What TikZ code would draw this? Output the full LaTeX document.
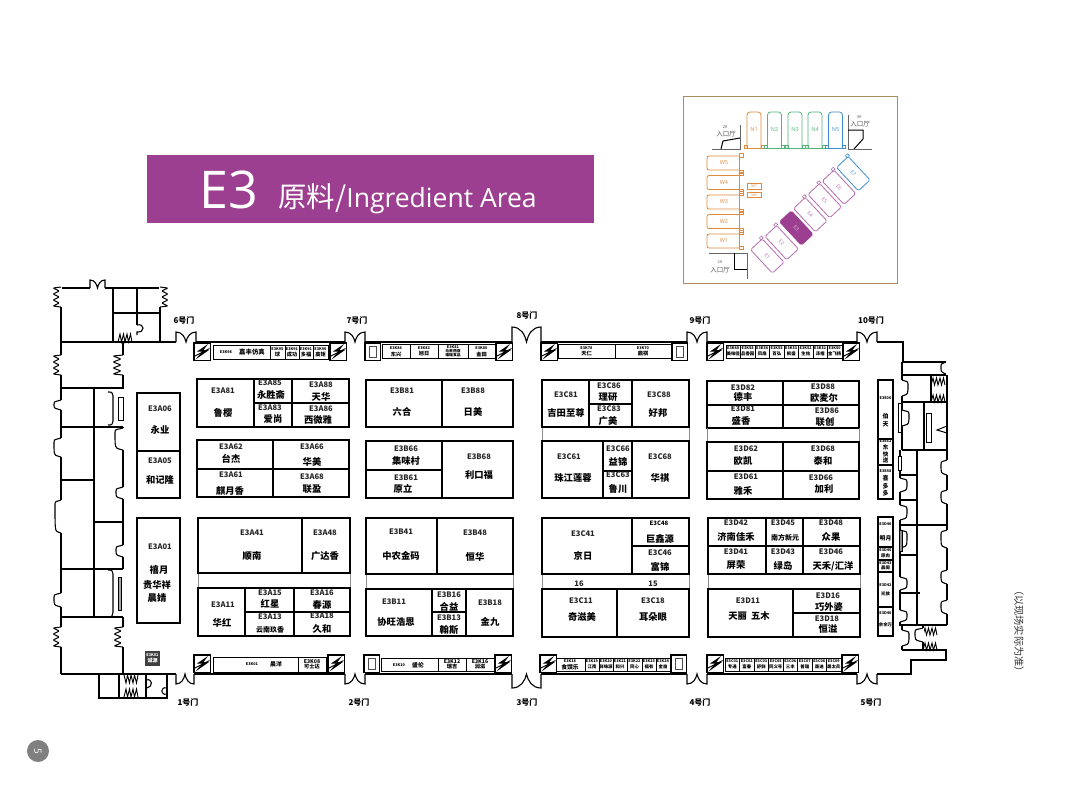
\documentclass[tikz,border=0pt]{standalone}
\usepackage{fontspec}
\newfontfamily\cjk{Noto Sans CJK SC}
\newfontfamily\tfont{Open Sans}
\definecolor{pur}{HTML}{9C3F90}
\definecolor{lpur}{HTML}{B56DB0}
\definecolor{ora}{HTML}{DE8A3C}
\definecolor{gre}{HTML}{52B478}
\definecolor{blu}{HTML}{3F8FD0}
\definecolor{frm}{HTML}{A98B63}
\tikzset{
 wall/.style={draw=black,line width=1.1pt,line join=miter},
 cell/.style={draw=black,line width=1.3pt,fill=white},
 thin cell/.style={draw=black,line width=.9pt,fill=white},
 lt/.style={draw=black!45,line width=.8pt},
 lb/.style={font=\cjk\bfseries\fontsize{7.6}{7.6}\selectfont,inner sep=0pt,text=black!85},
 cn/.style={font=\cjk\bfseries\fontsize{9.3}{9.3}\selectfont,inner sep=0pt},
 cns/.style={font=\cjk\bfseries\fontsize{7}{7}\selectfont,inner sep=0pt},
 tiny1/.style={font=\cjk\bfseries\fontsize{3.8}{4}\selectfont,inner sep=0pt,align=center},
 tiny2/.style={font=\cjk\bfseries\fontsize{5.2}{5.4}\selectfont,inner sep=0pt,align=center},
 tiny3/.style={font=\cjk\bfseries\fontsize{4.4}{4.4}\selectfont,inner sep=0pt},
 door/.style={font=\cjk\bfseries\fontsize{8}{8}\selectfont,inner sep=0pt},
 ins/.style={font=\cjk\fontsize{6.5}{6.5}\selectfont,inner sep=0pt,text=black!65},
 hall/.style={line width=.8pt,rounded corners=1.6pt,fill=white},
 hl/.style={font=\tfont\fontsize{5.5}{5.5}\selectfont,inner sep=0pt},
}
\newcommand{\BX}[4]{\path[cell] (#1,#2) rectangle (#3,#4);}
\newcommand{\TB}[4]{\path[thin cell] (#1,#2) rectangle (#3,#4);}
\newcommand{\VL}[3]{\draw[cell] (#1,#2) -- (#1,#3);}
\newcommand{\HL}[3]{\draw[cell] (#2,#1) -- (#3,#1);}
\newcommand{\LB}[3]{\node[lb] at (#1,#2) {#3};}
\newcommand{\CN}[3]{\node[cn] at (#1,#2) {#3};}
\newcommand{\LIGHT}[2]{%
 \path[draw=black,line width=1.5pt,fill=white] (#1,#2) rectangle ++(16.5,17.5);
 \fill[black] (#1+14,#2+1) -- (#1+3,#2+8.5) -- (#1+8,#2+8.5) -- (#1+1.5,#2+16.5) -- (#1+15,#2+7) -- (#1+9.5,#2+7) -- cycle;
 \draw[black,line width=.9pt] (#1+1,#2+13) -- (#1+15.5,#2+5.5);
}
\newcommand{\DOORBOX}[2]{%
 \path[draw=black,line width=1.5pt,fill=white] (#1,#2) rectangle ++(15.5,17.5);
 \path[draw=black!70,line width=.7pt] (#1+4.5,#2+3.5) rectangle ++(6.5,11);
}
\newcommand{\GATE}[4]{%
 \draw[white,line width=2.2pt] (#1,#3) -- (#2,#3);
 \draw[wall] (#1,#3) -- (#1,#4) .. controls ({#1+.3*(#2-#1)},#4) and ({#1+.45*(#2-#1)},{#4+.5*(#3-#4)}) .. ({.5*#1+.5*#2},#3)
  .. controls ({#1+.55*(#2-#1)},{#4+.5*(#3-#4)}) and ({#1+.7*(#2-#1)},#4) .. (#2,#4) -- (#2,#3);
}
\newcommand{\SPV}[3]{%
 \draw[white,line width=2.2pt] (#1,#2) -- (#1,#2+20);
 \draw[black,line width=1pt,rounded corners=1pt] (#1,#2) -- (#1+#3,#2+1) -- (#1+.2*#3,#2+4) -- (#1+#3,#2+7) -- (#1+.2*#3,#2+10) -- (#1+#3,#2+13) -- (#1+.2*#3,#2+16) -- (#1+#3,#2+19) -- (#1,#2+20);
}
\newcommand{\SPH}[3]{%
 \draw[black,line width=.9pt] (#1,#2) -- (#1+2,#2+#3) -- (#1+3.5,#2) -- (#1+5.5,#2+#3) -- (#1+7,#2) -- (#1+9,#2+#3) -- (#1+10.5,#2) -- (#1+12.5,#2+#3) -- (#1+14,#2);
}
\newcommand{\BUMP}[4]{%
 \draw[white,line width=2.2pt] (#1,#2) -- (#1,#2+#4);
 \draw[black,line width=1.1pt] (#1,#2) -- (#1+.4*#3,#2+.8) .. controls (#1+#3,#2+1.5) and (#1+#3,#2+2.5) .. (#1+#3,#2+4) .. controls (#1+#3,#2+#4-2) .. (#1+.4*#3,#2+#4-.8) -- (#1,#2+#4);
}
\begin{document}
\begin{tikzpicture}[x=1pt,y=-1pt]
\useasboundingbox (0,0) rectangle (1080,796);
\fill[white] (0,0) rectangle (1080,796);

%% title
\fill[pur] (147,155) rectangle (594,223);
\node[font=\tfont\fontsize{52}{52}\selectfont,text=white,inner sep=0pt,anchor=base west] at (199,208) {E3};
\node[font=\cjk\fontsize{28.5}{28.5}\selectfont,text=white,inner sep=0pt,anchor=base west] at (278,207) {原料/\tfont\fontsize{26.5}{26.5}\selectfont Ingredient Area};

%% inset
\draw[frm,line width=1pt] (683,96) rectangle (897,283);
\foreach \x/\c/\t in {747/ora/N1,767.5/gre/N2,788/gre/N3,808/gre/N4,828.5/blu/N5}{
 \draw[\c,line width=.8pt,rounded corners=3pt] (\x,148) -- (\x,112) -- (\x+14,112) -- (\x+14,148);
 \node[hl,text=\c] at (\x+7,130) {\t};
 \draw[\c,line width=.7pt] (\x-3,148) -- (\x+17,148);
 \draw[\c,line width=.7pt] (\x-3,145) rectangle (\x,148) (\x+14,145) rectangle (\x+17,148);
}
\foreach \y/\t in {156/W5,175.5/W4,195/W3,214.5/W2,234/W1}{
 \path[draw=ora,line width=.8pt,rounded corners=2pt] (739,\y) -- (707,\y) -- (707,\y+14) -- (739,\y+14);
 \node[hl,text=ora] at (724,\y+7) {\t};
}
\draw[ora,line width=.8pt] (739,154) -- (739,250);
\foreach \y in {153.5,170,172,189.5,191.5,209,211,228.5,230.5,246}{\draw[ora,line width=.7pt] (739,\y) rectangle (743,\y+3.5);}
\draw[ora,line width=.7pt] (747,183.5) rectangle (761.5,189.5) (747,192) rectangle (761.5,197.5);
\node[font=\tfont\fontsize{3.6}{3.6}\selectfont,text=ora,inner sep=0pt] at (754,186.5) {W7};
\node[font=\tfont\fontsize{3.6}{3.6}\selectfont,text=ora,inner sep=0pt] at (754,195) {W6};
\foreach \cx/\cy/\c/\t in {767.3/256/lpur/E1,781.7/242.7/lpur/E2,810.3/214.7/lpur/E4,824.7/200.7/lpur/E5,839/187.3/lpur/E6,853.3/173.7/blu/E7}{
 \begin{scope}[shift={(\cx,\cy)},rotate=-47]
 \path[hall,draw=\c] (-16,-8) rectangle (16,8);
 \draw[\c,line width=.6pt] (-18.5,-9.5) rectangle (-16,-6.5);
 \node[font=\tfont\fontsize{5}{5}\selectfont,text=\c,inner sep=0pt,rotate=-47] at (0,0) {\t};
 \end{scope}
}
\begin{scope}[shift={(796.3,228)},rotate=-47]
 \path[hall,draw=pur,fill=pur] (-16,-8) rectangle (16,8);
 \node[font=\tfont\fontsize{5}{5}\selectfont,text=white!70!pur,inner sep=0pt,rotate=-47] at (0,0) {E3};
\end{scope}
\draw[black!60,line width=1pt] (740,125) -- (740,149) -- (712,149);
\draw[black,line width=1pt] (721,149) -- (723,141) -- (740,138);
\draw[black!60,line width=1pt] (848,115) -- (848,149) -- (872,149);
\draw[black,line width=1pt] (848,130) -- (863,130) -- (863,139) -- (854,149);
\draw[black!60,line width=1pt] (709,253) -- (747,253) -- (747,279);
\draw[black,line width=1pt] (734,253) -- (734,269) -- (747,269);
\node[font=\cjk\fontsize{4}{4}\selectfont,inner sep=0pt,text=black!65] at (725,127) {2\#};
\node[ins] at (726,134) {入口厅};
\node[font=\cjk\fontsize{4}{4}\selectfont,inner sep=0pt,text=black!65] at (859,117) {3\#};
\node[ins] at (860,124) {入口厅};
\node[font=\cjk\fontsize{4}{4}\selectfont,inner sep=0pt,text=black!65] at (720,262) {1\#};
\node[ins] at (720,270) {入口厅};

%% outer wall
\draw[wall] (61,674) -- (61,288) -- (160,288) -- (160,342) -- (176,342);
\draw[wall] (196,342) -- (903,342) -- (903,362) -- (946,362);
\draw[wall] (61,674) -- (911,674) -- (911,660) -- (946,660) -- (946,650) -- (902,650);
\draw[wall] (61,342) -- (123,342) -- (123,388) -- (61,388);
\draw[wall] (123,342) -- (160,342);
\draw[wall] (61,427) -- (123,427);
\draw[wall] (61,480) -- (94,480);
\draw[wall] (94,522) -- (123,522);
\draw[wall] (61,569) -- (123,569);
\draw[wall] (61,617) -- (123,617);
\draw[wall] (94,388) -- (94,617);
\draw[wall] (123,427) -- (123,569) (123,617) -- (123,674);
\draw[wall] (113,288) -- (113,342) (137,288) -- (137,325) (113,313) -- (160,313);
\SPH{118}{342}{-8}
\draw[wall] (137,325) .. controls (145,323) and (145,333) .. (137,332) -- (137,335);
\GATE{90}{105}{288}{280}
\SPV{61}{287}{-8}
\SPV{160}{287}{8}
\SPV{61}{355}{-8}
\SPV{123}{355}{-10}
\SPV{61}{627}{-8}
\SPV{123}{627}{-9}
\BUMP{61}{400}{-7}{10}
\BUMP{61}{438}{-7}{19}
\BUMP{61}{500}{-6}{33}
\BUMP{61}{593}{-7}{14}
\BUMP{123}{428}{-8}{22}
\BUMP{123}{487}{-7}{12}
\BUMP{123}{545}{-7}{12}
\draw[wall] (108,392) .. controls (112,392) .. (113,396) -- (113,421) .. controls (112,425) .. (108,425);
\draw[wall] (108,570) .. controls (112,570) .. (113,574) -- (113,612) .. controls (112,617) .. (108,617);
\path[draw=black,line width=.9pt,fill=white] (118,397) rectangle (123,420);
\path[draw=black,line width=.9pt,fill=black!35] (118,577) rectangle (121,610);
\draw[wall] (99,674) -- (99,698) -- (167,698) -- (167,674);
\draw[wall] (119,674) -- (119,698) (146,674) -- (146,698);
\SPH{124}{675}{8}
\SPH{124}{697}{-8}
\draw[wall] (146,680) .. controls (153,678) and (153,687) .. (147,688);
\draw[wall] (167,688) .. controls (160,686) and (160,696) .. (167,694);
\GATE{176}{196}{342}{332}
\GATE{345}{365}{342}{332}
\GATE{512}{541}{342}{327}
\GATE{687}{707}{342}{332}
\GATE{857}{877}{342}{332}
\GATE{176}{194}{674}{684}
\GATE{345}{365}{674}{684}
\GATE{512}{541}{674}{688}
\GATE{687}{707}{674}{684}
\GATE{857}{877}{674}{684}
\draw[wall] (902,362) -- (902,402) (902,375) -- (946,375) (902,402) -- (946,402);
\draw[wall] (924,402) -- (924,450) (902,450) -- (947,450);
\draw[wall] (917,450) -- (917,625);
\draw[line width=1.5pt] (899,525) -- (947,525);
\draw[wall] (899,625) -- (947,625);
\draw[wall] (902,402) -- (902,450) (900,450) -- (900,625) (902,625) -- (902,650);
\draw[wall] (947,375) -- (947,625);
\draw[wall] (900,593) -- (920,593);
\draw[wall] (900,555) -- (917,555) (900,475) -- (917,475) (900,500) -- (917,500);
\draw[wall] (931,375) -- (931,402);
\SPH{931}{385}{-7}
\SPH{931}{402}{-7}
\SPH{923}{635}{-7}
\SPH{923}{650}{-7}
\draw[wall] (923,625) -- (923,650);
\BUMP{902}{410}{7}{16}
\BUMP{902}{380}{6}{16}
\BUMP{900}{478}{7}{14}
\BUMP{900}{505}{7}{15}
\BUMP{900}{530}{7}{18}
\BUMP{900}{577}{7}{13}
\BUMP{900}{610}{7}{12}
\BUMP{902}{630}{7}{16}
\BUMP{923}{628}{-8}{14}
\BUMP{947}{460}{-6}{15}
\BUMP{947}{490}{-6}{14}
\BUMP{947}{530}{-6}{18}
\BUMP{947}{570}{-6}{14}
\BUMP{947}{600}{-6}{14}
\BUMP{946}{362}{-5}{12}
\draw[black,line width=1pt] (947,426) -- (937,430) -- (947,433);
\path[draw=black,line width=.9pt,fill=white] (898,403) rectangle (901,432);
\path[draw=black,line width=.9pt,fill=white] (926,413) rectangle (931,442);
\path[draw=black,line width=.9pt,fill=white] (898,456) rectangle (901,470);
\path[draw=black,line width=.9pt,fill=black!45] (899,530) rectangle (902,551);

%% A blocks
\BX{137}{393}{180}{451}\BX{137}{451}{180}{498}\BX{137}{518}{180}{623}
\LB{160}{409}{E3A06}\CN{160}{430}{永业}\LB{160}{461}{E3A05}\CN{160}{480}{和记隆}
\LB{160}{547}{E3A01}\CN{159}{570}{禧月}\CN{157}{585}{贵华祥}\CN{157}{598}{晨婧}
\BX{197}{379}{349}{427}\VL{254}{379}{427}\VL{292}{379}{427}\HL{403}{254}{349}
\LB{223}{391}{E3A81}\CN{223}{413}{鲁樱}\LB{270}{383}{E3A85}\CN{271}{395}{永胜斋}\LB{321}{385}{E3A88}\CN{321}{397}{天华}
\LB{270}{408}{E3A83}\CN{273}{419}{爱尚}\LB{321}{409}{E3A86}\CN{318}{420}{西微雅}
\BX{197}{440}{349}{497}\VL{273}{440}{497}\HL{469}{197}{349}
\LB{231}{447}{E3A62}\CN{231}{459}{台杰}\LB{312}{447}{E3A66}\CN{312}{462}{华美}\LB{231}{475}{E3A61}\CN{230}{491}{麒月香}\LB{312}{477}{E3A68}\CN{312}{489}{联盈}
\draw[lt] (198,573) -- (198,588) (350,573) -- (350,588);
\BX{198}{518}{350}{573}\VL{302}{518}{573}
\LB{252}{533}{E3A41}\CN{252}{556}{顺南}\LB{325}{533}{E3A48}\CN{325}{556}{广达香}
\BX{198}{588}{350}{636}\VL{245}{588}{636}\VL{294}{588}{636}\HL{612}{245}{350}
\LB{223}{605}{E3A11}\CN{222}{623}{华红}\LB{270}{593}{E3A15}\CN{270}{604}{红星}\LB{322}{593}{E3A16}\CN{322}{605}{春源}\LB{270}{617}{E3A13}\node[cns] at (270,630) {云南玖香};\LB{322}{616}{E3A18}\CN{322}{629}{久和}
%% B blocks
\BX{366}{380}{513}{427}\VL{442}{380}{427}
\LB{402}{391}{E3B81}\CN{402}{412}{六合}\LB{473}{391}{E3B88}\CN{473}{412}{日美}
\BX{366}{441}{513}{498}\VL{442}{441}{498}\HL{470}{366}{442}
\LB{406}{449}{E3B66}\CN{406}{461}{集味村}\LB{406}{478}{E3B61}\CN{403}{489}{原立}\LB{479}{457}{E3B68}\CN{479}{475}{利口福}
\draw[lt] (366,574) -- (366,589) (513,574) -- (513,589);
\BX{366}{518}{513}{574}\VL{437}{518}{574}
\LB{401}{532}{E3B41}\CN{401}{556}{中农金码}\LB{475}{533}{E3B48}\CN{475}{557}{恒华}
\BX{366}{589}{513}{636}\VL{432}{589}{636}\VL{466}{589}{636}\HL{612}{432}{466}
\LB{394}{602}{E3B11}\CN{396}{622}{协旺浩恩}\LB{449}{595}{E3B16}\CN{449}{607}{合益}\LB{449}{618}{E3B13}\CN{449}{630}{翰斯}\LB{490}{603}{E3B18}\CN{490}{622}{金九}
%% C blocks
\draw[lt] (542,427) -- (542,441) (689,427) -- (689,441);
\BX{542}{380}{689}{427}\VL{589}{380}{427}\VL{632}{380}{427}\HL{404}{589}{632}
\LB{566}{395}{E3C81}\CN{566}{413}{吉田至尊}\LB{609}{386}{E3C86}\CN{608}{397}{理研}\LB{609}{409}{E3C83}\CN{608}{421}{广美}\LB{659}{395}{E3C88}\CN{658}{413}{好邦}
\BX{542}{441}{689}{498}\VL{603}{441}{498}\VL{632}{441}{498}\HL{471}{603}{632}
\LB{569}{457}{E3C61}\CN{573}{478}{珠江莲蓉}\LB{618}{449}{E3C66}\CN{618}{462}{益锦}\LB{618}{475}{E3C63}\CN{618}{489}{鲁川}\LB{660}{457}{E3C68}\CN{660}{478}{华祺}
\draw[lt] (542,574) -- (542,589) (689,574) -- (689,589);
\BX{542}{518}{689}{574}\VL{632}{518}{574}\HL{546}{632}{689}
\LB{583}{534}{E3C41}\CN{583}{556}{京日}\node[font=\cjk\bfseries\fontsize{6}{6}\selectfont,inner sep=0pt] at (659,523) {E3C48};\CN{660}{539}{巨鑫源}\LB{660}{553}{E3C46}\CN{660}{567}{富锦}
\BX{542}{589}{689}{637}\VL{617}{589}{637}
\LB{581}{601}{E3C11}\CN{582}{617}{奇滋美}\LB{653}{601}{E3C18}\CN{653}{617}{耳朵眼}
\LB{579}{584}{16}\LB{653}{584}{15}
%% D blocks
\BX{707}{381}{859}{428}\VL{783}{381}{428}\HL{405}{707}{859}
\LB{743}{388}{E3D82}\CN{743}{397}{德丰}\LB{823}{387}{E3D88}\CN{824}{398}{欧麦尔}\LB{743}{409}{E3D81}\CN{741}{421}{盛香}\LB{827}{411}{E3D86}\CN{825}{422}{联创}
\draw[lt] (707,428) -- (707,442) (859,428) -- (859,442);
\BX{707}{442}{859}{499}\VL{783}{442}{499}\HL{471}{707}{859}
\LB{746}{449}{E3D62}\CN{743}{461}{欧凯}\LB{823}{449}{E3D68}\CN{823}{461}{泰和}\LB{746}{477}{E3D61}\CN{743}{491}{雅禾}\LB{821}{478}{E3D66}\CN{824}{489}{加利}
\draw[lt] (708,574) -- (708,589) (860,574) -- (860,589);
\BX{708}{518}{860}{574}\VL{766}{518}{574}\VL{803}{518}{574}\HL{546}{708}{860}
\LB{736}{523}{E3D42}\CN{736}{537}{济南佳禾}\LB{783}{523}{E3D45}\node[cns] at (785,538) {南方新元};\LB{831}{523}{E3D48}\CN{831}{537}{众果}
\LB{736}{552}{E3D41}\CN{736}{565}{屏荣}\LB{783}{552}{E3D43}\CN{783}{566}{绿岛}\LB{831}{552}{E3D46}\CN{833}{566}{天禾/汇洋}
\BX{708}{589}{860}{637}\VL{793}{589}{637}\HL{613}{793}{860}
\LB{748}{601}{E3D11}\CN{749}{616}{天丽\ \ 五木}\LB{828}{596}{E3D16}\CN{829}{607}{巧外婆}\LB{827}{619}{E3D18}\CN{828}{629}{恒溢}

%% strips top
\LIGHT{194}{343}
\TB{213}{345}{270}{359}
\node[tiny1] at (226,352.5) {E3K98};\node[font=\cjk\bfseries\fontsize{6.4}{6.4}\selectfont,inner sep=0pt] at (252,352.5) {嘉丰仿真};
\foreach \a/\b/\c/\d in {270/285/E3K95/球,285/299/E3K91/成功,299/313/E3K91/多福,313/328/E3K90/高矩}{
 \TB{\a}{345}{\b}{359}\node[tiny1] at ({.5*\a+.5*\b},349) {\c};\node[tiny2] at ({.5*\a+.5*\b},355) {\d};}
\LIGHT{330}{343}
\DOORBOX{365}{343}
\foreach \a/\b/\c/\d in {382/410/E3K86/东兴,410/438/E3K83/旭日,468/495/E3K80/金田}{
 \TB{\a}{344}{\b}{358}\node[tiny1] at ({.5*\a+.5*\b},348) {\c};\node[tiny2] at ({.5*\a+.5*\b},354) {\d};}
\TB{438}{344}{468}{358}\node[tiny1] at (453,351) {E3K81\\ 马来西亚\\ 福瑞食品};
\LIGHT{496}{343}
\LIGHT{541}{343}
\foreach \a/\b/\c/\d in {558/615/E3K78/天仁,615/671/E3K70/鼎祺}{
 \TB{\a}{344}{\b}{358}\node[tiny1] at ({.5*\a+.5*\b},348) {\c};\node[tiny2] at ({.5*\a+.5*\b},353.5) {\d};}
\DOORBOX{672}{343}
\LIGHT{707}{343}
\foreach \a/\b/\c/\d in {726/740.5/E3K60/美味佳,740.5/755/E3K58/品香园,755/769.5/E3K56/凤扇,769.5/784/E3K55/百弘,784/798.5/E3K53/枫盛,798.5/813/E3K52/生佑,813/827.5/E3K51/泽楷,827.5/842/E3K50/金飞扬}{
 \TB{\a}{345}{\b}{358}\node[tiny1] at ({.5*\a+.5*\b},348.5) {\c};\node[tiny3] at ({.5*\a+.5*\b},354) {\d};}
\LIGHT{843}{343}

%% strips bottom
\node[tiny1,fill=black!75,text=white,minimum width=15pt,minimum height=15pt] at (152.5,658.5) {E3K01\\ \fontsize{5}{5.2}\selectfont 诚源};
\LIGHT{194}{655}
\TB{213}{657}{298}{672}
\node[tiny1] at (252,664.5) {E3K01};\node[font=\cjk\bfseries\fontsize{5.8}{5.8}\selectfont,inner sep=0pt] at (276,664.5) {晨洋};
\TB{298}{657}{326}{672}\node[tiny2] at (312,664.5) {E3K08\\可士达};
\LIGHT{328}{655}
\DOORBOX{364}{655}
\TB{381}{658}{438}{671}\TB{438}{658}{466}{671}\TB{466}{658}{494}{671}
\node[tiny1] at (399,665) {E3K10};\node[font=\cjk\bfseries\fontsize{5.8}{5.8}\selectfont,inner sep=0pt] at (418,665) {盛伦};
\node[tiny2] at (452,664.5) {E3K12\\瑞吉};\node[tiny2] at (480,664.5) {E3K16\\润滋};
\LIGHT{495}{655}
\LIGHT{540}{655}
\TB{556}{658}{585}{671}\node[tiny1] at (570,661) {E3K18};\node[font=\cjk\bfseries\fontsize{5.8}{5.8}\selectfont,inner sep=0pt] at (570,667.5) {食馔乐};
\foreach \a/\b/\c/\d in {585/599/E3K19/江南,599/613/E3K20/鲜味源,613/627/E3K21/和兴,627/642/E3K22/同心,642/656/E3K23/福有,656/670/E3K24/金亩}{
 \TB{\a}{658}{\b}{671}\node[tiny1] at ({.5*\a+.5*\b},661) {\c};\node[tiny3] at ({.5*\a+.5*\b},667) {\d};}
\DOORBOX{671}{655}
\LIGHT{707}{655}
\foreach \a/\b/\c/\d in {725/739.5/E3C01/专通,739.5/754/E3C02/富春,754/768.5/E3C03/舒鲜,768.5/783/E3C05/同义号,783/797.5/E3C06/三丰,797.5/812/E3C07/普瑞,812/826.5/E3C08/晟迪,826.5/841/E3C09/晟太兵}{
 \TB{\a}{658}{\b}{671}\node[tiny1] at ({.5*\a+.5*\b},661.5) {\c};\node[tiny3] at ({.5*\a+.5*\b},667) {\d};}
\LIGHT{842}{655}

%% right booths
\BX{878}{380}{893}{439}\BX{878}{439}{893}{465}\BX{878}{465}{893}{499}
\node[tiny1] at (885.5,398) {E3E06};\node[tiny2,font=\cjk\bfseries\fontsize{6}{7.5}\selectfont] at (885.5,420) {伯\\天};
\node[tiny1] at (885.5,441.5) {E3E52};\node[tiny2,font=\cjk\bfseries\fontsize{5.5}{6.5}\selectfont] at (885.5,454) {东\\快\\送};
\node[tiny1] at (885.5,471) {E3E48};\node[tiny2,font=\cjk\bfseries\fontsize{6}{7.5}\selectfont] at (885.5,486) {喜\\多\\多};
\BX{878}{517}{893}{547}\BX{878}{547}{893}{560}\BX{878}{560}{893}{572}\BX{878}{572}{893}{607}\BX{878}{607}{893}{636}
\node[tiny1] at (885.5,524) {E3D46};\node[font=\cjk\bfseries\fontsize{5.8}{6}\selectfont,inner sep=0pt] at (885.5,538) {明月};
\node[tiny1] at (885.5,550) {E3D45};\node[tiny3] at (885.5,556) {原肉};
\node[tiny1] at (885.5,563) {E3D43};\node[tiny3] at (885.5,568) {晨阁};
\node[tiny1] at (885.5,585) {E3D42};\node[tiny3] at (885.5,594) {光放};
\node[tiny1] at (885.5,613) {E3D40};\node[tiny3] at (885.5,625) {余余万};

%% door labels
\foreach \x/\y/\t in {184/320/6,357/320/7,527/315/8,700/320/9,871/320/10,188/702/1,359/702/2,527/702/3,700/702/4,871/702/5}{
 \node[door] at (\x,\y) {\t 号门};}

%% note, page badge
\node[font=\cjk\fontsize{10.2}{10.2}\selectfont,inner sep=0pt,rotate=-90,text=black!80] at (1019,631) {（以现场实际为准）};
\fill[black!50] (38,751) circle (11);
\node[font=\tfont\fontsize{10}{10}\selectfont,text=white,inner sep=0pt,rotate=-90] at (38,751) {5};
\end{tikzpicture}
\end{document}
